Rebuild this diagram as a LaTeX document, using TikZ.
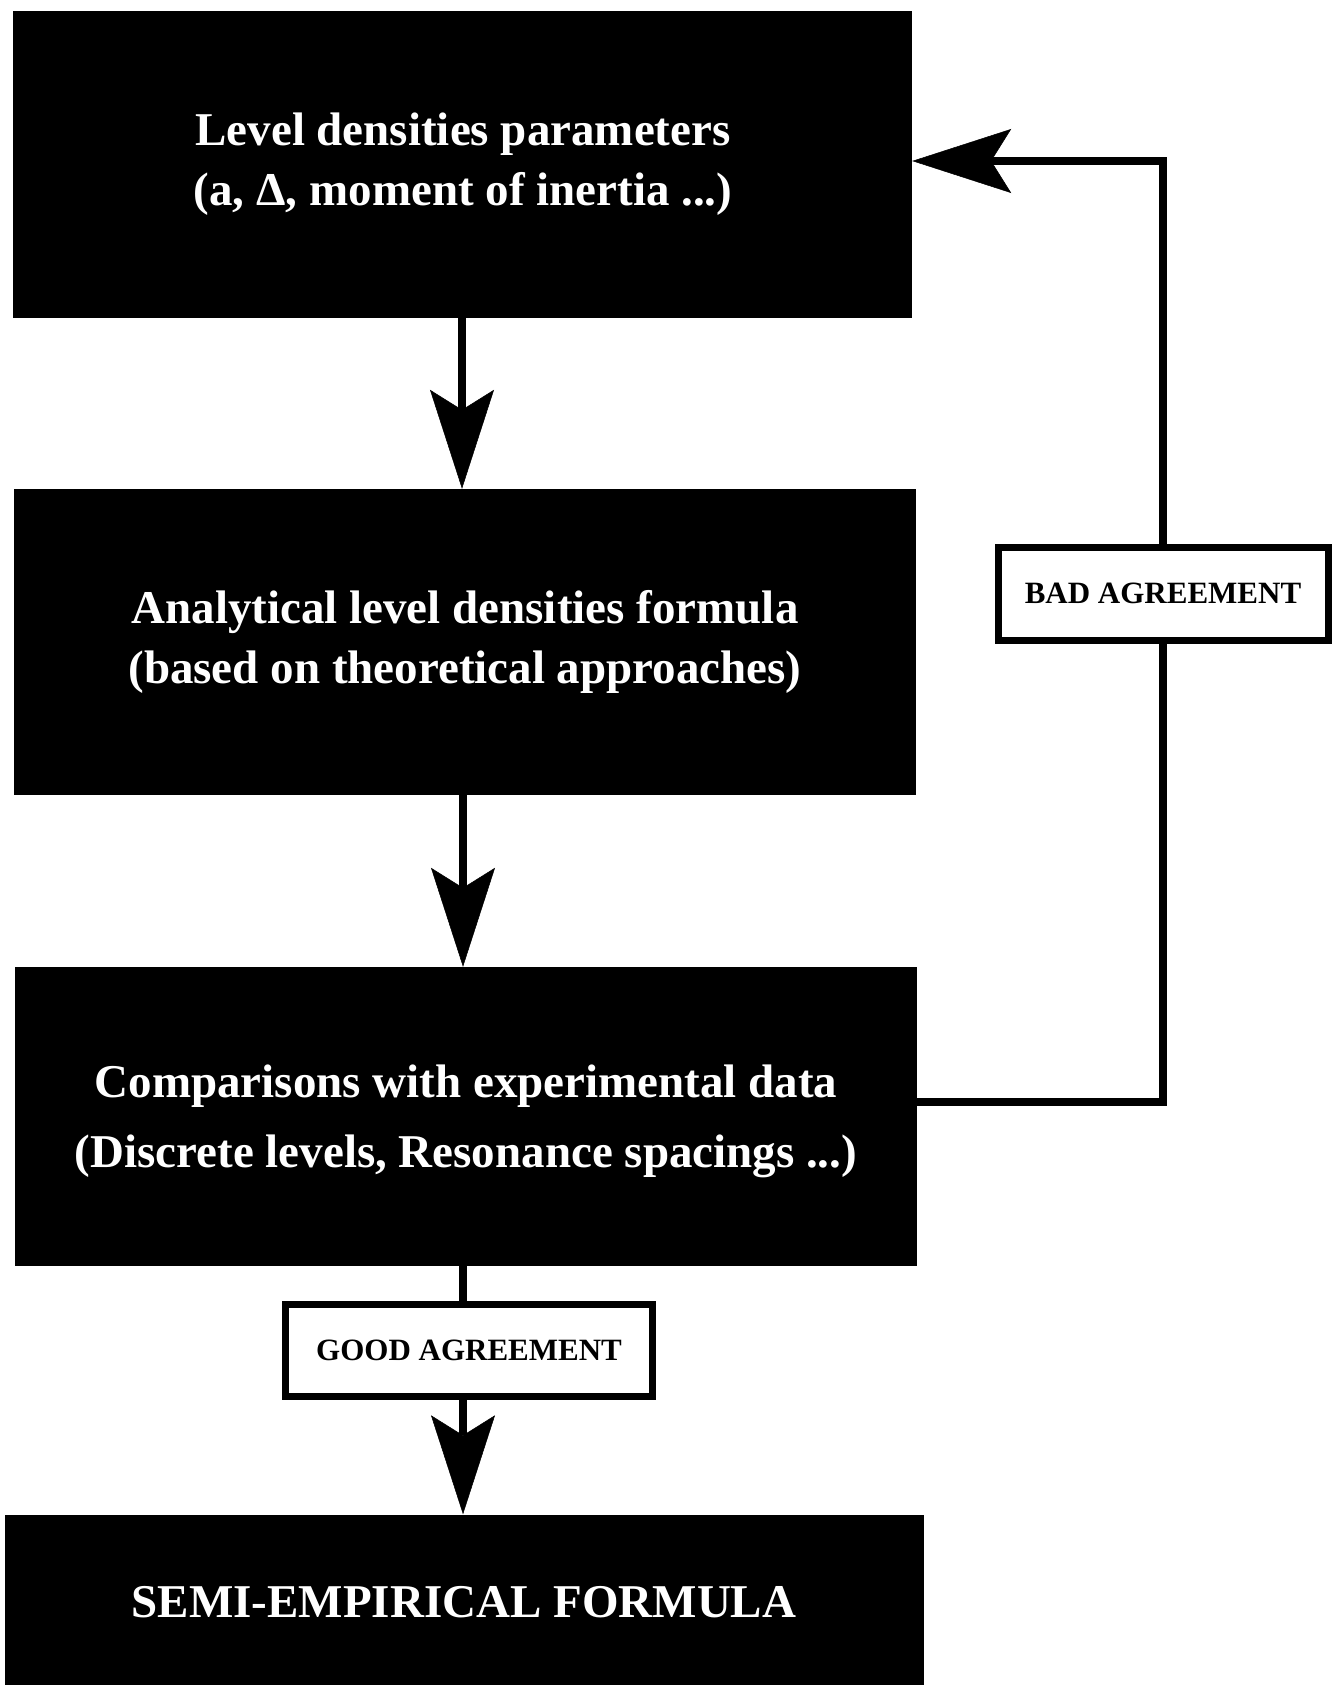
\documentclass[tikz,border=0pt]{standalone}
\usepackage{fontspec}
\setmainfont{Liberation Serif}
\usetikzlibrary{arrows.meta}
\tikzset{
  blackbox/.style={rectangle, fill=black, draw=none, inner sep=0pt},
  boxtext/.style={text=white, font=\fontsize{47}{60}\selectfont\bfseries, align=center, inner sep=0pt},
  widetext/.style={text=white, font=\fontsize{47}{70}\selectfont\bfseries, align=center, inner sep=0pt},
  tagbox/.style={rectangle, draw=black, line width=7pt, fill=white, inner sep=0pt,
    font=\fontsize{31}{36}\selectfont\bfseries},
  flow/.style={line width=8pt, -{Stealth[length=99pt, width=64pt, inset=20pt, line width=0.5pt]}},
  plain/.style={line width=8pt},
}
\begin{document}
\begin{tikzpicture}[x=1pt, y=-1pt]
\useasboundingbox (0,0) rectangle (1333,1685);
\fill[white] (0,0) rectangle (1333,1685);
% boxes
\node[blackbox, minimum width=899pt, minimum height=307pt] (b1) at (462.5,164.5) {};
\node[blackbox, minimum width=902pt, minimum height=306pt] (b2) at (465,642) {};
\node[blackbox, minimum width=902pt, minimum height=299pt] (b3) at (466,1116.5) {};
\node[blackbox, minimum width=919pt, minimum height=171pt] (b4) at (464.5,1600) {};
% texts
\node[boxtext] (t1) at (463,164) {Level densities parameters\\(a, Δ, moment of inertia ...)};
\node[boxtext] (t2) at (465,642) {Analytical level densities formula\\(based on theoretical approaches)};
\node[widetext] (t3) at (466,1121) {Comparisons with experimental data\\(Discrete levels, Resonance spacings ...)};
\node[boxtext] (t4) at (464,1602) {SEMI-EMPIRICAL FORMULA};
% tags
\node[tagbox, minimum width=367pt, minimum height=92pt] (good) at (469,1350) {GOOD AGREEMENT};
\node[tagbox, minimum width=330pt, minimum height=93pt] (bad) at (1163,593.5) {BAD AGREEMENT};
% connectors
\draw[flow] (b1.south -| 462,0) -- (b2.north -| 462,0);
\draw[flow] (b2.south -| 463,0) -- (b3.north -| 463,0);
\draw[plain] (b3.south -| 463,0) -- (good.north -| 463,0);
\draw[flow] (good.south -| 463,0) -- (b4.north -| 463,0);
\coordinate (c1) at (1163,1102);
\coordinate (c2) at (1163,161);
\draw[plain] (b3.east |- c1) -- (c1) -- (bad.south);
\draw[flow] (bad.north) -- (c2) -- (b1.east |- c2);
\end{tikzpicture}
\end{document}
